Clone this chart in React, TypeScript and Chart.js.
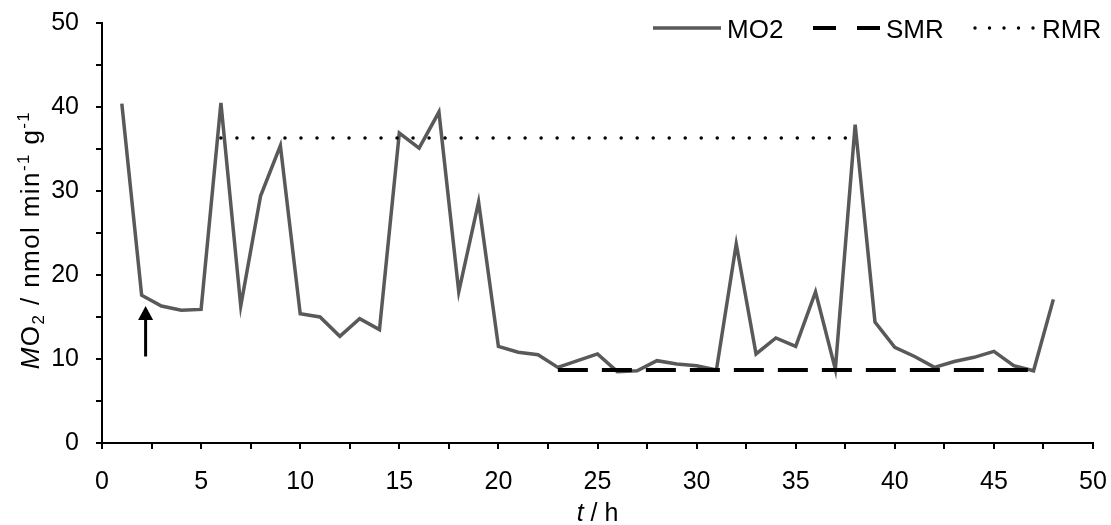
import React, { useEffect, useRef } from "react";
import { Chart, registerables } from "chart.js";

Chart.register(...registerables);

// Hourly oxygen uptake readings
const HOURS = [
  1, 2, 3, 4, 5, 6, 7, 8, 9, 10, 11, 12, 13, 14, 15, 16, 17, 18, 19, 20, 21, 22, 23, 24,
  25, 26, 27, 28, 29, 30, 31, 32, 33, 34, 35, 36, 37, 38, 39, 40, 41, 42, 43, 44, 45, 46, 47, 48,
];
const MO2 = [
  40.4, 17.6, 16.3, 15.8, 15.9, 40.5, 16.3, 29.4, 35.4, 15.4, 15.0, 12.7, 14.8, 13.5, 36.9, 35.1,
  39.4, 18.0, 28.7, 11.5, 10.8, 10.5, 9.0, 9.8, 10.6, 8.5, 8.6, 9.8, 9.4, 9.2, 8.7, 23.7,
  10.6, 12.5, 11.5, 18.0, 8.8, 37.9, 14.4, 11.4, 10.3, 9.0, 9.7, 10.2, 10.9, 9.2, 8.6, 17.1,
];

// Standard and routine metabolic rate levels with their time spans (h)
const SMR_SPAN = [23, 47];
const SMR_VALUE = 8.7;
const RMR_SPAN = [6, 38];
const RMR_VALUE = 36.3;

// Marker arrow (h, from / to in MO2 units)
const ARROW_X = 2.2;
const ARROW_FROM = 10.3;
const ARROW_TO = 16.3;

// Axis ranges and tick steps
const X_MIN = 0;
const X_MAX = 50;
const X_STEP = 2.5;
const X_LABEL_STEP = 5;
const Y_MIN = 0;
const Y_MAX = 50;
const Y_STEP = 5;
const Y_LABEL_STEP = 10;

const FONT = "'Liberation Sans', Arial, sans-serif";
const GREY = "#595959";

type Seg = { t: string; italic?: boolean; shift?: number; small?: boolean };

function drawSegments(
  ctx: CanvasRenderingContext2D,
  segs: Seg[],
  cx: number,
  baseline: number,
  size: number,
  spacing = 0
) {
  const smallSize = Math.round(size * 0.66);
  const fontOf = (s: Seg) => `${s.italic ? "italic " : ""}${s.small ? smallSize : size}px ${FONT}`;
  const c: any = ctx;
  c.letterSpacing = `${spacing}px`;
  let total = 0;
  for (const s of segs) {
    ctx.font = fontOf(s);
    total += ctx.measureText(s.t).width;
  }
  let x = cx - total / 2;
  ctx.textAlign = "left";
  ctx.textBaseline = "alphabetic";
  for (const s of segs) {
    ctx.font = fontOf(s);
    ctx.fillText(s.t, x, baseline + (s.shift || 0));
    x += ctx.measureText(s.t).width;
  }
  c.letterSpacing = "0px";
}

const decorations = {
  id: "decorations",
  afterDatasetsDraw(chart: any) {
    const ctx: CanvasRenderingContext2D = chart.ctx;
    const xs = chart.scales.x;
    const ys = chart.scales.y;
    ctx.save();
    ctx.fillStyle = "#000";
    ctx.strokeStyle = "#000";

    // arrow
    const ax = xs.getPixelForValue(ARROW_X);
    const ay0 = ys.getPixelForValue(ARROW_FROM);
    const ay1 = ys.getPixelForValue(ARROW_TO);
    ctx.lineWidth = 3;
    ctx.beginPath();
    ctx.moveTo(ax, ay0);
    ctx.lineTo(ax, ay1 + 10);
    ctx.stroke();
    ctx.beginPath();
    ctx.moveTo(ax, ay1);
    ctx.lineTo(ax - 7.5, ay1 + 14);
    ctx.lineTo(ax + 7.5, ay1 + 14);
    ctx.closePath();
    ctx.fill();

    // axis titles
    ctx.fillStyle = "#000";
    drawSegments(ctx, [{ t: "t", italic: true }, { t: " / h" }], (chart.chartArea.left + chart.chartArea.right) / 2, 521, 25);

    ctx.save();
    ctx.translate(39, 240);
    ctx.rotate(-Math.PI / 2);
    drawSegments(
      ctx,
      [
        { t: "M", italic: true },
        { t: "O" },
        { t: "2", small: true, shift: 5 },
        { t: " / nmol min" },
        { t: "-1", small: true, shift: -10 },
        { t: " g" },
        { t: "-1", small: true, shift: -10 },
      ],
      0,
      0,
      26,
      1.4
    );
    ctx.restore();

    // legend
    const ly = 28;
    ctx.font = `26px ${FONT}`;
    ctx.textBaseline = "alphabetic";
    ctx.textAlign = "left";

    ctx.strokeStyle = GREY;
    ctx.lineWidth = 3.5;
    ctx.setLineDash([]);
    ctx.beginPath();
    ctx.moveTo(653, ly);
    ctx.lineTo(721, ly);
    ctx.stroke();
    ctx.fillText("MO2", 727, 38);

    ctx.strokeStyle = "#000";
    ctx.lineWidth = 4;
    ctx.setLineDash([23, 21]);
    ctx.beginPath();
    ctx.moveTo(813, ly);
    ctx.lineTo(880, ly);
    ctx.stroke();
    ctx.fillText("SMR", 886, 38);

    ctx.setLineDash([]);
    for (let i = 0; i < 5; i++) {
      ctx.beginPath();
      ctx.arc(975 + i * 14.5, ly, 1.7, 0, Math.PI * 2);
      ctx.fill();
    }
    ctx.fillText("RMR", 1042, 38);

    ctx.restore();
  },
};

export default function App() {
  const ref = useRef<HTMLCanvasElement>(null);

  useEffect(() => {
    if (!ref.current) return;
    const chart = new Chart(ref.current, {
      type: "line",
      data: {
        datasets: [
          {
            label: "MO2",
            data: HOURS.map((h, i) => ({ x: h, y: MO2[i] })),
            borderColor: GREY,
            borderWidth: 3.5,
            pointRadius: 0,
            tension: 0,
            order: 3,
          },
          {
            label: "SMR",
            data: SMR_SPAN.map((h) => ({ x: h, y: SMR_VALUE })),
            borderColor: "#000",
            borderWidth: 4,
            borderDash: [30, 14],
            pointRadius: 0,
            order: 1,
          },
          {
            label: "RMR",
            data: RMR_SPAN.map((h) => ({ x: h, y: RMR_VALUE })),
            borderColor: "#000",
            borderWidth: 3.5,
            borderDash: [0.01, 16],
            borderCapStyle: "round",
            pointRadius: 0,
            order: 2,
          },
        ],
      },
      options: {
        responsive: false,
        animation: false,
        devicePixelRatio: 1,
        layout: { padding: { top: 23, right: 18, left: 0, bottom: 0 } },
        plugins: { legend: { display: false }, tooltip: { enabled: false } },
        scales: {
          x: {
            type: "linear",
            min: X_MIN,
            max: X_MAX,
            afterFit: (s: any) => {
              s.height = 82;
              s.paddingLeft = 0;
              s.paddingRight = 0;
            },
            afterBuildTicks: (s: any) => {
              const t = [];
              for (let v = X_MIN; v <= X_MAX + 1e-9; v += X_STEP) t.push({ value: v });
              s.ticks = t;
            },
            ticks: {
              autoSkip: false,
              maxRotation: 0,
              padding: 18,
              color: "#000",
              font: { family: FONT, size: 25 },
              callback: (v: any) => (Number(v) % X_LABEL_STEP === 0 ? String(v) : ""),
            },
            grid: { drawOnChartArea: false, drawTicks: true, tickLength: 6, color: "#000", lineWidth: 2 },
            border: { display: true, color: "#000", width: 2 },
          },
          y: {
            type: "linear",
            min: Y_MIN,
            max: Y_MAX,
            afterFit: (s: any) => {
              s.width = 102;
              s.paddingTop = 0;
              s.paddingBottom = 0;
            },
            afterBuildTicks: (s: any) => {
              const t = [];
              for (let v = Y_MIN; v <= Y_MAX + 1e-9; v += Y_STEP) t.push({ value: v });
              s.ticks = t;
            },
            ticks: {
              autoSkip: false,
              padding: 17,
              color: "#000",
              font: { family: FONT, size: 25 },
              callback: (v: any) => (Number(v) % Y_LABEL_STEP === 0 ? String(v) : ""),
            },
            grid: { drawOnChartArea: false, drawTicks: true, tickLength: 6, color: "#000", lineWidth: 2 },
            border: { display: true, color: "#000", width: 2 },
          },
        },
      },
      plugins: [decorations],
    } as any);
    return () => chart.destroy();
  }, []);

  return (
    <div style={{ position: "absolute", left: 0, top: 0, width: 1111, height: 525, background: "#fff" }}>
      <canvas ref={ref} width={1111} height={525} style={{ display: "block" }} />
    </div>
  );
}
